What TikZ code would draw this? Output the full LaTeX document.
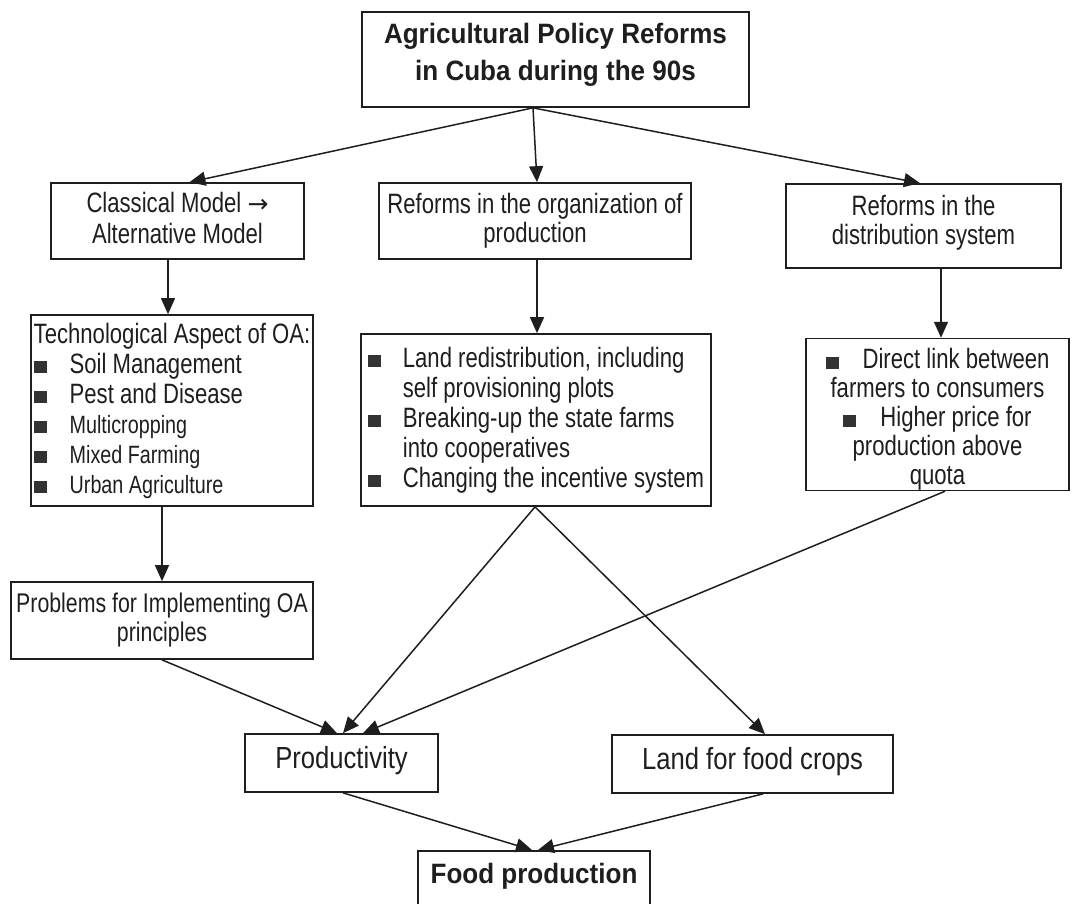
\documentclass[tikz,border=0pt]{standalone}
\usepackage{fontspec}
\setmainfont{Liberation Sans}[FakeStretch=0.79]
\newfontfamily\titlefont{Liberation Sans}[FakeStretch=0.93]
\newfontfamily\bigfont{Liberation Sans}[FakeStretch=0.84]
\newfontfamily\arrowfont{DejaVu Sans}
\usetikzlibrary{arrows.meta,calc}
\definecolor{ink}{HTML}{1E1E1E}
\definecolor{bltc}{HTML}{333333}
\newcommand{\blt}{\textcolor{bltc}{\rule{13pt}{12pt}}}
\newcommand{\bltA}{\makebox[36pt][l]{\blt}}
\newcommand{\bltB}{\makebox[35pt][l]{\blt}}
\newcommand{\smallsz}{\fontsize{25}{28}\selectfont}
\newcommand{\dn}[1]{\rule[-#1]{0pt}{#1}}
\newcommand{\up}[1]{\rule{0pt}{#1}}
\begin{document}
\begin{tikzpicture}[x=1pt,y=-1pt,
  box/.style={draw=ink, line width=1.7pt, inner sep=0pt, text=ink},
  arr/.style={draw=ink, line width=1.5pt, -{Triangle[length=16pt,width=14pt]}},
  txt/.style={font=\fontsize{28}{30}\selectfont},
  big/.style={font=\bigfont\fontsize{30.5}{34}\selectfont},
  ttl/.style={font=\titlefont\bfseries\fontsize{28}{37}\selectfont}]
\useasboundingbox (0,0) rectangle (1073,903);

\node[box, ttl, minimum width=387pt, minimum height=95pt, align=center] (top) at (555.5,59.5)
  {Agricultural Policy Reforms\\in Cuba during the 90s\dn{16pt}};

\node[box, font=\fontsize{28}{31}\selectfont, minimum width=253pt, minimum height=76pt, align=center] (cls) at (177.5,221)
  {Classical Model {\arrowfont\fontsize{25}{25}\selectfont →}\\Alternative Model\dn{6pt}};
\node[box, font=\fontsize{28}{29}\selectfont, minimum width=312pt, minimum height=76pt, align=center] (org) at (535,221)
  {Reforms in the organization of\\production};
\node[box, font=\fontsize{28}{29}\selectfont, minimum width=275pt, minimum height=84pt, align=center] (dist) at (923.5,226)
  {Reforms in the\\distribution system\dn{12pt}};

\node[box, txt, minimum width=282pt, minimum height=191pt, align=left] (tech) at (172,410.5)
  {Technological Aspect of OA:\\
   \bltA Soil Management\\
   \bltA Pest and Disease\\
   \smallsz\bltA Multicropping\\
   \smallsz\bltA Mixed Farming\\
   \smallsz\bltA Urban Agriculture};

\node[box, txt, minimum width=350pt, minimum height=172pt, align=left] (orgl) at (536,420)
  {\bltB Land redistribution, including\\
   \hspace*{35pt}self provisioning plots\\
   \bltB Breaking-up the state farms\\
   \hspace*{35pt}into cooperatives\\
   \bltB Changing the incentive system};

\node[box, font=\fontsize{28}{29}\selectfont, minimum width=263pt, minimum height=143pt, align=center] (distl) at (937.5,414.5)
  {\up{30pt}\blt\hspace{24pt}Direct link between\\
   farmers to consumers\\
   \blt\hspace{24pt}Higher price for\\
   production above\\
   quota};

\node[box, font=\fontsize{27}{29}\selectfont, minimum width=302pt, minimum height=77pt, align=center] (prob) at (162,620.5)
  {Problems for Implementing OA\\principles};

\node[box, big, minimum width=193pt, minimum height=58pt] (prod) at (341.5,763) {Productivity\dn{12pt}};
\node[box, big, minimum width=281pt, minimum height=58pt] (land) at (752.5,764) {Land for food crops\dn{12pt}};

\node[box, ttl, anchor=north, minimum width=232pt, inner ysep=0pt, text height=33pt, text depth=57pt] (food) at (534,850)
  {Food production};

\coordinate (topo) at ([xshift=-22.5pt]top.south);
\draw[arr] (topo) -- ([xshift=12pt]cls.north);
\draw[arr] (topo) -- ([xshift=2pt]org.north);
\draw[arr] (topo) -- ([xshift=-3.5pt]dist.north);
\draw[arr] ([xshift=-9.5pt]cls.south) -- ([xshift=-4pt]tech.north);
\draw[arr] ([xshift=2pt]org.south) -- ([xshift=1pt]orgl.north);
\draw[arr] ([xshift=17.5pt]dist.south) -- ([xshift=3.5pt]distl.north);
\draw[arr] ([xshift=-10pt]tech.south) -- (prob.north);
\coordinate (orgo) at ([xshift=-1pt]orgl.south);
\draw[arr] (orgo) -- ([xshift=1.5pt]prod.north);
\draw[arr] (orgo) -- ([xshift=12.5pt]land.north);
\draw[arr] (prob.south) -- ([xshift=-4.5pt]prod.north);
\draw[arr] ([xshift=7.5pt]distl.south) -- ([xshift=21.5pt]prod.north);
\draw[arr] ([xshift=1.5pt]prod.south) -- ([xshift=-2pt]food.north);
\draw[arr] ([xshift=10.5pt]land.south) -- ([xshift=4pt]food.north);
\end{tikzpicture}
\end{document}
